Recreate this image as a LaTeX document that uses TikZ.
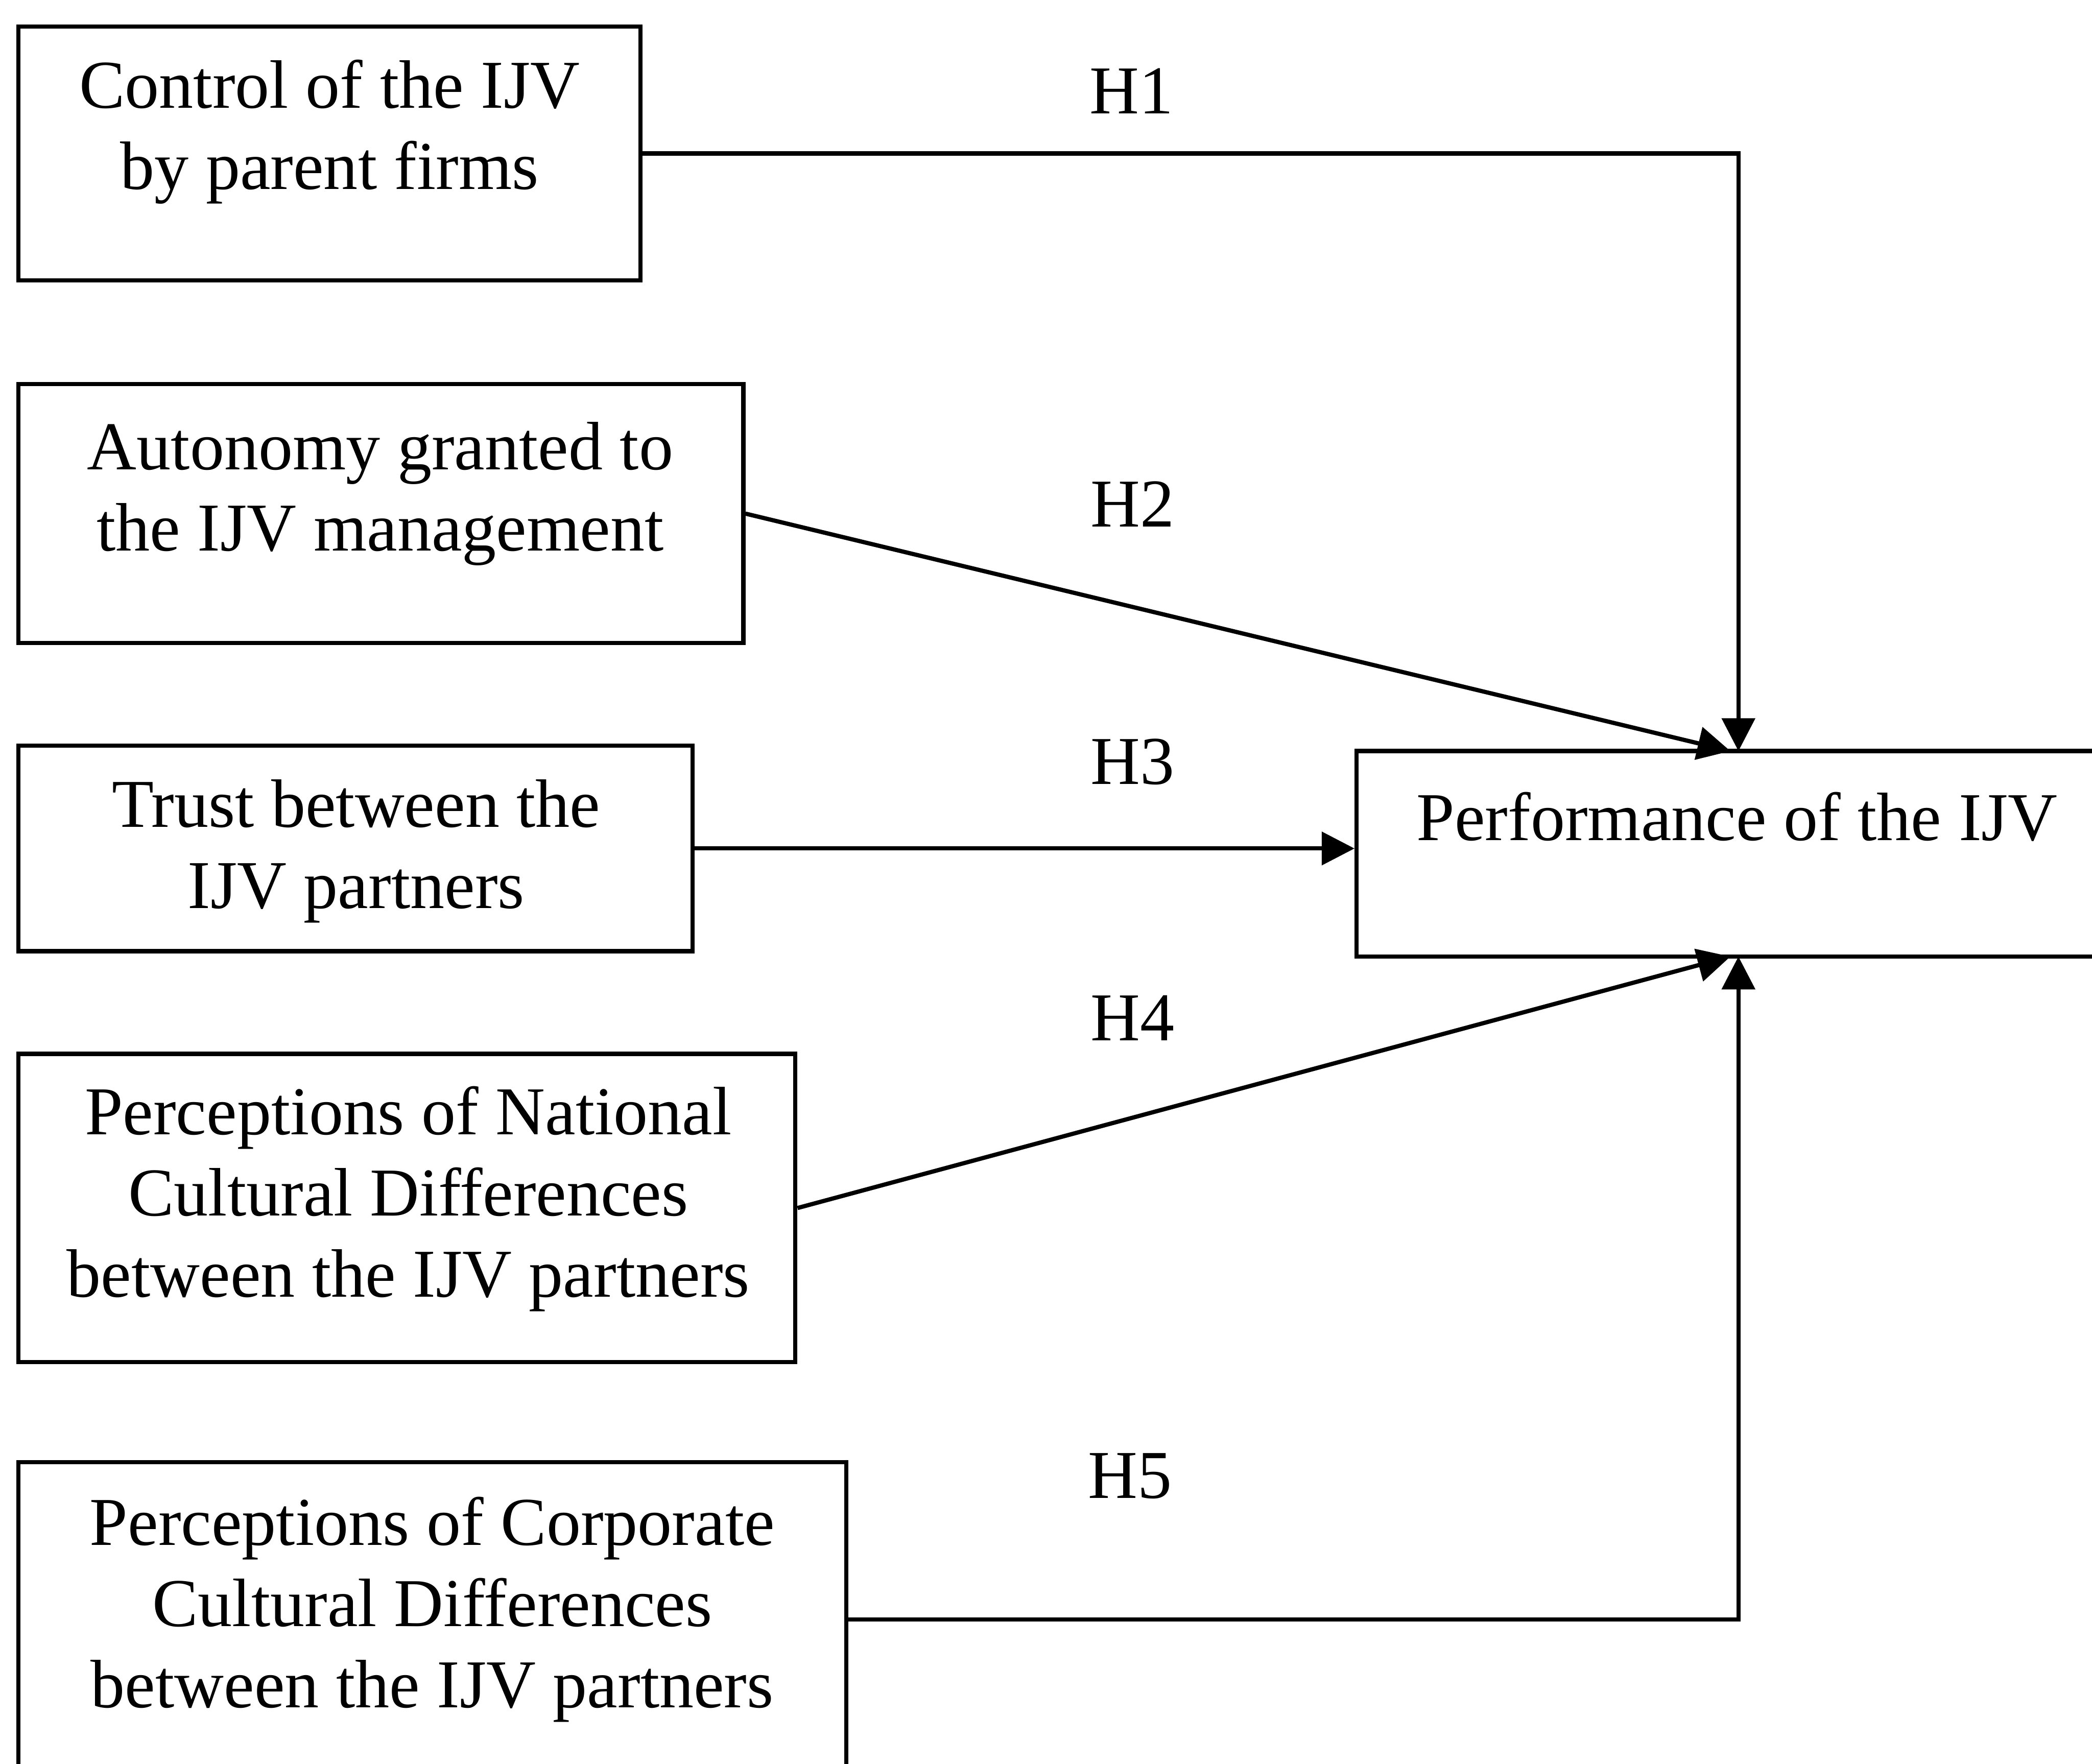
\documentclass[tikz,border=0pt]{standalone}
\usepackage{fontspec}
\setmainfont{Liberation Serif}
\usetikzlibrary{arrows.meta}
\begin{document}
\begin{tikzpicture}[x=0.01cm,y=-0.01cm,
  box/.style={draw,line width=0.9pt,rectangle,inner sep=0pt},
  txt/.style={align=center,anchor=base,inner sep=0pt,font=\fontsize{14.6}{17.3}\selectfont},
  conn/.style={line width=0.9pt,-{Triangle[length=7pt,width=7pt]}},
  hyp/.style={anchor=base,inner sep=0pt,font=\fontsize{14.6}{17.3}\selectfont}]
\useasboundingbox (0,0) rectangle (1568,1322);
\begin{scope}
\clip (0,0) rectangle (1568,1322);
% boxes
\node[box,minimum width=4.66cm,minimum height=1.90cm] (b1) at (247,115) {};
\node[box,minimum width=5.43cm,minimum height=1.94cm] (b2) at (285.5,385) {};
\node[box,minimum width=5.05cm,minimum height=1.54cm] (b3) at (266.5,636) {};
\node[box,minimum width=5.82cm,minimum height=2.31cm] (b4) at (305,905.5) {};
\node[box,minimum width=6.20cm,minimum height=2.36cm] (b5) at (324,1214) {};
\node[box,minimum width=5.73cm,minimum height=1.54cm] (perf) at (1303.5,640) {};
% texts (anchor at baseline of last line)
\node[txt] (t1) at (247,142) {Control of the IJV\\by parent firms};
\node[txt] (t2) at (285,413) {Autonomy granted to\\the IJV management};
\node[txt] (t3) at (267,681) {Trust between the\\IJV partners};
\node[txt] (t4) at (306,972) {Perceptions of National\\Cultural Differences\\between the IJV partners};
\node[txt] (t5) at (324,1280) {Perceptions of Corporate\\Cultural Differences\\between the IJV partners};
\node[txt] (tp) at (1302,630) {Performance of the IJV};
% hypothesis labels
\node[hyp] (h1) at (848,85) {H1};
\node[hyp] (h2) at (849,395) {H2};
\node[hyp] (h3) at (849,588) {H3};
\node[hyp] (h4) at (849,780) {H4};
\node[hyp] (h5) at (847,1123) {H5};
% connector points
\coordinate (ptop) at (1303,563);
\coordinate (pbot) at (1303,717);
\coordinate (p2) at (1297,563);
\coordinate (p4) at (1297,717);
% connectors
\draw[conn] (b1.east) -| (ptop);
\draw[conn] (b2.east) -- (p2);
\draw[conn] (b3.east) -- (b3.east -| perf.west);
\draw[conn] (b4.east) -- (p4);
\draw[conn] (b5.east) -| (pbot);
\end{scope}
\end{tikzpicture}
\end{document}
